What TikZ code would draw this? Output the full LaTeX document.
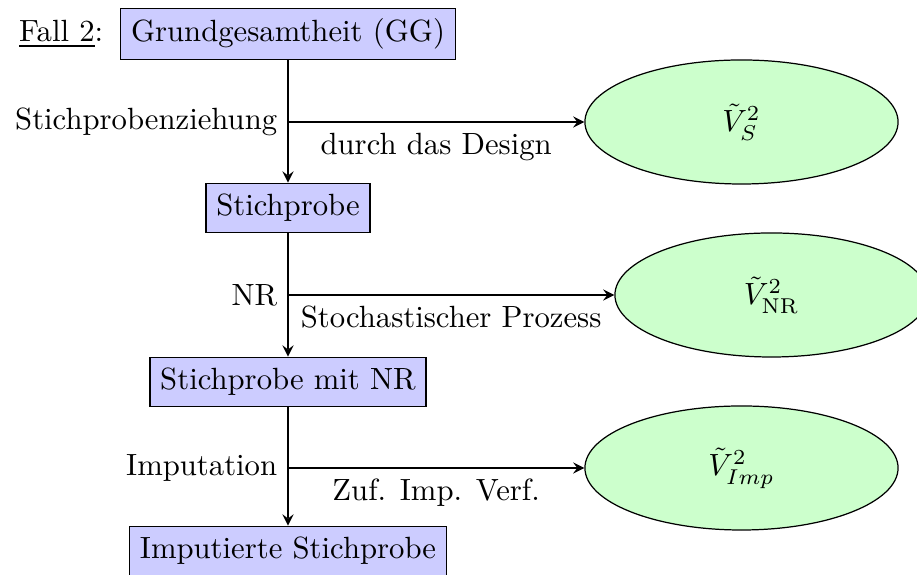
\documentclass[tikz,border=0pt]{standalone}
\usetikzlibrary{shapes.geometric,arrows,positioning}
\begin{document}
\begin{tikzpicture}[
  x=0.32573pt, y=-0.32573pt,
  stage/.style={draw, line width=0.4pt, fill=blue!20, minimum height=16.2pt},
  result/.style={ellipse, draw, line width=0.4pt, fill=green!20,
                 minimum width=102pt, minimum height=40.4pt, inner sep=0pt},
  flow/.style={-stealth, semithick}
]
\useasboundingbox (0,0) rectangle (917,575);

% process stages
\node[stage] (gg)  at (288,34)  {Grundgesamtheit (GG)};
\node[stage] (sp)  at (288,208) {Stichprobe};
\node[stage] (snr) at (288,382) {Stichprobe mit NR};
\node[stage] (imp) at (288,551) {Imputierte Stichprobe};
\node[left=2pt of gg] (fall) {\underline{Fall 2}:};

% variance components
\node[result] (vs)   at (741.5,122) {$\tilde{V}_S^2$};
\node[result] (vnr)  at (771.5,295) {$\tilde{V}_{\mathrm{NR}}^2$};
\node[result] (vimp) at (741.5,468) {$\tilde{V}_{Imp}^2$};

% branching points on the main line
\coordinate (b1) at (gg.south |- vs.west);
\coordinate (b2) at (sp.south |- vnr.west);
\coordinate (b3) at (snr.south |- vimp.west);

% main flow
\draw[flow] (gg.south) -- (sp.north);
\draw[flow] (sp.south) -- (snr.north);
\draw[flow] (snr.south) -- (imp.north);

% branches
\draw[flow] (b1) -- node[midway, below] (l1) {durch das Design} (vs.west);
\draw[flow] (b2) -- node[midway, below] (l2) {Stochastischer Prozess} (vnr.west);
\draw[flow] (b3) -- node[midway, below] (l3) {Zuf. Imp. Verf.} (vimp.west);

\node[left] (n1) at (b1) {Stichprobenziehung};
\node[left] (n2) at (b2) {NR};
\node[left] (n3) at (b3) {Imputation};
\end{tikzpicture}
\end{document}
